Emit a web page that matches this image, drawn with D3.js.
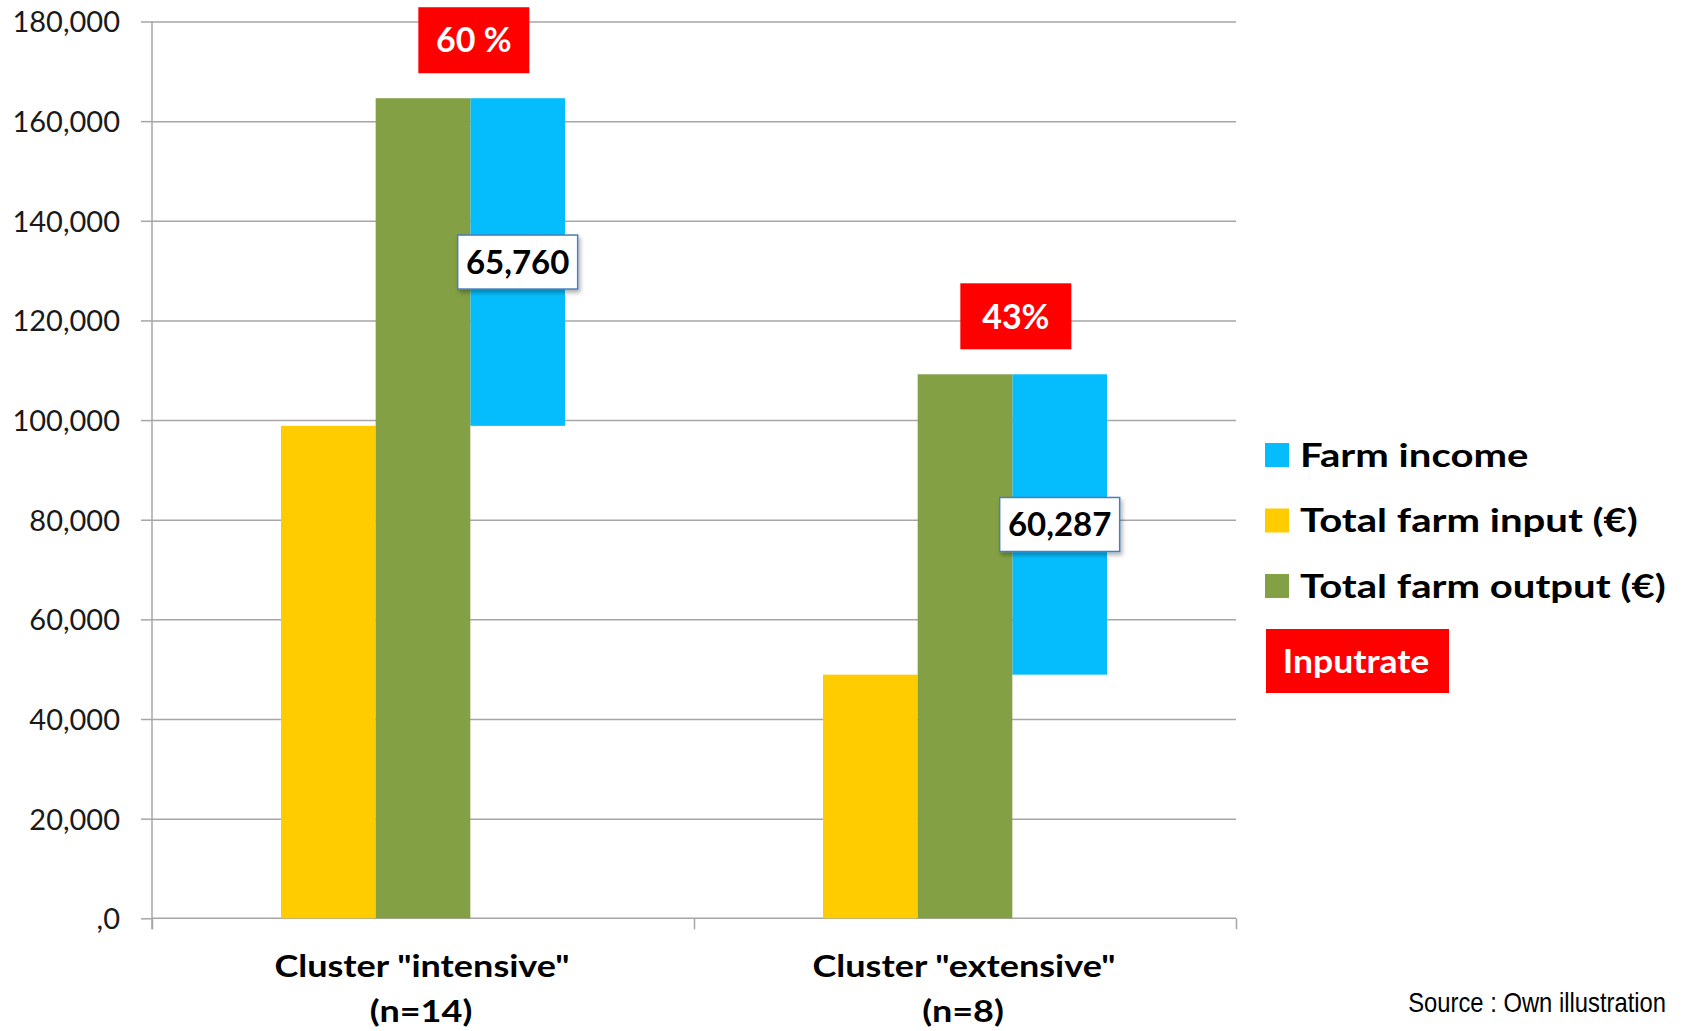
<!DOCTYPE html>
<html>
<head>
<meta charset="utf-8">
<script src="https://cdn.jsdelivr.net/npm/d3@7"></script>
<style>
  html, body { margin: 0; padding: 0; background: #ffffff; }
  svg { display: block; }
</style>
</head>
<body>
<svg id="chart" width="1682" height="1031"></svg>
<script>
// ---- data ----
const categories = ['Cluster "intensive"', 'Cluster "extensive"'];
const groupSizes = ["(n=14)", "(n=8)"];
const totalInput = [98840, 48900];      // € per farm
const farmIncome = [65760, 60287];      // € per farm
const totalOutput = [164600, 109187];   // € per farm
const inputRateLabels = ["60 %", "43%"];
const yTicks = [0, 20000, 40000, 60000, 80000, 100000, 120000, 140000, 160000, 180000];
const yTickLabels = [",0", "20,000", "40,000", "60,000", "80,000", "100,000", "120,000", "140,000", "160,000", "180,000"];
const legendLabels = ["Farm income", "Total farm input (€)", "Total farm output (€)", "Inputrate"];
const sourceNote = "Source : Own illustration";

// ---- styling ----
const colInput = "#ffcc00";
const colOutput = "#83a044";
const colIncome = "#05bdfd";
const colRate = "#ff0000";
const gridCol = "#a6a6a6";
const font = "Lato, 'Open Sans', sans-serif";

// widen a text run horizontally while keeping its height
function stretch(sel, factor) {
  sel.each(function () {
    const w = this.getComputedTextLength();
    d3.select(this).attr("textLength", w * factor).attr("lengthAdjust", "spacingAndGlyphs");
  });
}

const svg = d3.select("#chart");
const plot = { left: 152, right: 1236, top: 21.5, bottom: 918.3 };

const defs = svg.append("defs");
const shadow = defs.append("filter").attr("id", "soft").attr("x", "-20%").attr("y", "-20%")
  .attr("width", "150%").attr("height", "160%");
shadow.append("feDropShadow").attr("dx", 2).attr("dy", 3).attr("stdDeviation", 2)
  .attr("flood-color", "#000").attr("flood-opacity", 0.3);

const y = d3.scaleLinear().domain([0, 180000]).range([plot.bottom, plot.top]);
const x0 = d3.scaleBand().domain(categories).range([plot.left, plot.right]).padding(0);
const groupWidth = 284;
const x1 = d3.scaleBand().domain(["input", "output", "income"]).range([0, groupWidth]).padding(0);
const groupStart = c => x0(c) + x0.bandwidth() / 2 - groupWidth / 2;

// ---- gridlines ----
svg.append("g")
  .attr("transform", `translate(${plot.left},0)`)
  .call(d3.axisLeft(y).tickValues(yTicks.slice(1)).tickSize(-(plot.right - plot.left)).tickFormat(""))
  .call(g => g.select(".domain").remove())
  .call(g => g.selectAll("line").attr("stroke", gridCol).attr("stroke-width", 1.5));

// ---- y axis ----
const yAxis = svg.append("g")
  .attr("transform", `translate(${plot.left},0)`)
  .call(d3.axisLeft(y).tickValues(yTicks).tickSize(11).tickPadding(21)
    .tickFormat((d, i) => yTickLabels[i]));
yAxis.select(".domain").attr("stroke", gridCol).attr("stroke-width", 1.5)
  .attr("d", `M0,${plot.top}V${plot.bottom + 11}`);
yAxis.selectAll("line").attr("stroke", gridCol).attr("stroke-width", 1.5);
yAxis.selectAll("text").attr("font-family", font).attr("font-size", 29)
  .attr("fill", "#1a1a1a").attr("dy", "0.36em");

// ---- x axis (ticks at category boundaries) ----
const boundaries = categories.map(c => x0(c)).concat([x0.range()[1]]);
const xAxis = svg.append("g")
  .attr("transform", `translate(0,${plot.bottom})`)
  .call(d3.axisBottom(d3.scaleLinear().domain([plot.left, plot.right]).range([plot.left, plot.right]))
    .tickValues(boundaries).tickSize(11).tickFormat(""));
xAxis.select(".domain").attr("stroke", gridCol).attr("stroke-width", 1.5)
  .attr("d", `M${plot.left},0H${plot.right}`);
xAxis.selectAll("line").attr("stroke", gridCol).attr("stroke-width", 1.5);

// ---- bars ----
const rows = categories.map((c, i) => ({
  c, input: totalInput[i], output: totalOutput[i], income: farmIncome[i], rate: inputRateLabels[i]
}));

const groups = svg.append("g").selectAll("g").data(rows).join("g")
  .attr("transform", d => `translate(${groupStart(d.c)},0)`);

groups.append("rect")
  .attr("x", x1("input")).attr("width", x1.bandwidth())
  .attr("y", d => y(d.input)).attr("height", d => y(0) - y(d.input))
  .attr("fill", colInput);

groups.append("rect")
  .attr("x", x1("income")).attr("width", x1.bandwidth())
  .attr("y", d => y(d.input + d.income)).attr("height", d => y(d.input) - y(d.input + d.income))
  .attr("fill", colIncome);

groups.append("rect")
  .attr("x", x1("output")).attr("width", x1.bandwidth())
  .attr("y", d => y(d.output)).attr("height", d => y(0) - y(d.output))
  .attr("fill", colOutput);

// ---- farm income value labels ----
const valW = 120, valH = 54;
const valueLabel = groups.append("g")
  .attr("transform", d => {
    const cx = x1("income") + x1.bandwidth() / 2;
    const cy = (y(d.input) + y(d.input + d.income)) / 2;
    return `translate(${cx},${cy})`;
  });
valueLabel.append("rect")
  .attr("x", -valW / 2).attr("y", -valH / 2).attr("width", valW).attr("height", valH)
  .attr("fill", "#ffffff").attr("stroke", "#4a7ebb").attr("stroke-width", 1.5)
  .attr("filter", "url(#soft)");
valueLabel.append("text")
  .attr("text-anchor", "middle").attr("dy", "0.36em")
  .attr("font-family", font).attr("font-weight", 700).attr("font-size", 33).attr("fill", "#000")
  .text(d => d3.format(",")(d.income));

// ---- input rate boxes ----
const rateW = 111, rateH = 66;
const rateLabel = groups.append("g")
  .attr("transform", d => `translate(${x1("income") + 3.5},${y(d.output) - 25 - rateH / 2})`);
rateLabel.append("rect")
  .attr("x", -rateW / 2).attr("y", -rateH / 2).attr("width", rateW).attr("height", rateH)
  .attr("fill", colRate);
rateLabel.append("text")
  .attr("text-anchor", "middle").attr("dy", "0.36em")
  .attr("font-family", font).attr("font-weight", 700).attr("font-size", 34).attr("fill", "#fff")
  .text(d => d.rate);

// ---- category labels ----
const catG = svg.append("g").selectAll("g").data(categories).join("g");
catG.append("text")
  .attr("x", c => x0(c) + x0.bandwidth() / 2 - 1).attr("y", 977)
  .attr("text-anchor", "middle")
  .attr("font-family", font).attr("font-weight", 700).attr("font-size", 30).attr("fill", "#000")
  .text(c => c)
  .call(stretch, 1.2);
catG.append("text")
  .attr("x", c => x0(c) + x0.bandwidth() / 2 - 2).attr("y", 1022)
  .attr("text-anchor", "middle")
  .attr("font-family", font).attr("font-weight", 700).attr("font-size", 30).attr("fill", "#000")
  .text((c, i) => groupSizes[i])
  .call(stretch, 1.2);

// ---- legend ----
const legendColors = [colIncome, colInput, colOutput];
const legend = svg.append("g").attr("transform", "translate(1265,443)");
legendLabels.slice(0, 3).forEach((lab, i) => {
  const row = legend.append("g").attr("transform", `translate(0,${i * 65.5})`);
  row.append("rect").attr("width", 24).attr("height", 24).attr("fill", legendColors[i]);
  row.append("text").attr("x", 35).attr("y", 23.5)
    .attr("font-family", font).attr("font-weight", 700).attr("font-size", 33).attr("fill", "#000")
    .text(lab)
    .call(stretch, 1.215);
});
const rateKey = legend.append("g").attr("transform", "translate(1,186)");
rateKey.append("rect").attr("width", 183).attr("height", 64).attr("fill", colRate);
rateKey.append("text").attr("x", 90).attr("y", 44)
  .attr("text-anchor", "middle")
  .attr("font-family", font).attr("font-weight", 700).attr("font-size", 32).attr("fill", "#fff")
  .text(legendLabels[3])
  .call(stretch, 1.11);

// ---- source note (condensed by a horizontal scale) ----
svg.append("g")
  .attr("transform", "translate(1666,1012) scale(0.85,1)")
  .append("text")
  .attr("text-anchor", "end")
  .attr("font-family", "'Liberation Sans', Arial, sans-serif")
  .attr("font-size", 28).attr("fill", "#000")
  .text(sourceNote);
</script>
</body>
</html>
